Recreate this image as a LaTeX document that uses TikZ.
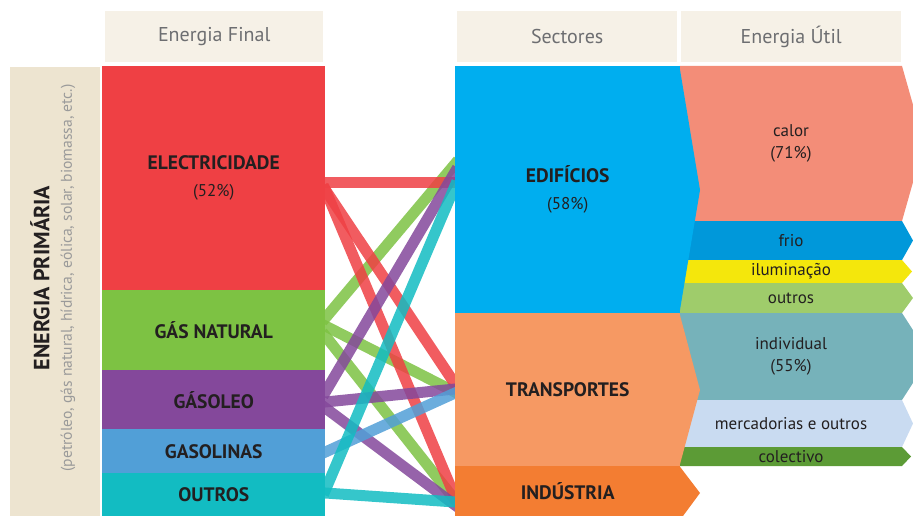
\documentclass[tikz,border=0pt]{standalone}
\usepackage{fontspec}
\setmainfont{PT Sans}

\definecolor{headfill}{HTML}{F6F1E7}
\definecolor{primfill}{HTML}{EDE4D0}
\definecolor{headtxt}{HTML}{6D6E71}
\definecolor{subtxt}{HTML}{9A9A9A}
\definecolor{labtxt}{HTML}{231F20}
\definecolor{elecred}{HTML}{EF4044}
\definecolor{gasgreen}{HTML}{7DC243}
\definecolor{oilpurple}{HTML}{84489B}
\definecolor{petrolblue}{HTML}{519FD7}
\definecolor{othteal}{HTML}{12BCC2}
\definecolor{edifblue}{HTML}{00AEEF}
\definecolor{transorange}{HTML}{F69963}
\definecolor{indorange}{HTML}{F37D32}
\definecolor{heatc}{HTML}{F38D78}
\definecolor{coldc}{HTML}{0098DA}
\definecolor{lightc}{HTML}{F4E70C}
\definecolor{miscc}{HTML}{9FCC6B}
\definecolor{indivc}{HTML}{76B2BA}
\definecolor{freightc}{HTML}{C9DBF1}
\definecolor{publicc}{HTML}{5C9B36}

\pgfdeclarelayer{flows}
\pgfsetlayers{flows,main}

\tikzset{
  head/.style={fill=headfill, text=headtxt, anchor=north west, inner sep=0pt,
    minimum height=51pt, font=\fontsize{20}{22}\selectfont},
  final/.style={anchor=north west, inner sep=0pt, minimum width=223pt, align=center,
    text=labtxt, font=\bfseries\fontsize{19.5}{21}\selectfont},
  sector/.style={final, minimum width=225pt},
  util/.style={inner sep=0pt, align=center, text=labtxt, font=\fontsize{17}{22}\selectfont},
  flow/.style={draw=#1, draw opacity=0.85, line width=11pt, shorten <=-5pt, shorten >=-5pt}
}

\begin{document}
\begin{tikzpicture}[x=1pt,y=-1pt]
  \useasboundingbox (0,0) rectangle (913,516);
  % column titles
  \node[head, minimum width=218pt] (hfinal) at (105,11) {Energia Final};
  \node[head, minimum width=220pt] (hsect) at (457,11) {Sectores};
  \node[head, minimum width=220pt] (hutil) at (681,11) {Energia Útil};
  % primary energy strip
  \node[fill=primfill, anchor=north west, inner sep=0pt, minimum width=90pt,
    minimum height=449pt] (prim) at (10,67) {};
  \node[rotate=90, text=labtxt, font=\bfseries\fontsize{22}{24}\selectfont]
    (primtitle) at (40,278) {ENERGIA PRIMÁRIA};
  \node[rotate=90, text=subtxt, font=\fontsize{15.6}{17}\selectfont]
    (primlist) at (68,278) {(petróleo, gás natural, hídrica, eólica, solar, biomassa, etc.)};
  % final energy
  \foreach \n/\t/\h/\c/\txt in {elec/66/224/elecred/{ELECTRICIDADE\\[6pt]{\mdseries\fontsize{17}{20}\selectfont(52\%)}},
      gas/290/80/gasgreen/{GÁS NATURAL}, diesel/370/59/oilpurple/GÁSOLEO,
      petrol/429/44/petrolblue/GASOLINAS, other/473/43/othteal/OUTROS}
    \node[final, fill=\c, minimum height=\h pt] (\n) at (102,\t) {\txt};
  % useful energy (under the sector tips)
  \foreach \n/\t/\b/\tx/\c/\txt in {heat/66/221/924/heatc/{calor\\(71\%)},
      cold/221/260/913/coldc/frio, light/260/283/912/lightc/iluminação,
      misc/283/313/913/miscc/outros, indiv/313/400/930/indivc/{individual\\(55\%)},
      freight/400/447/913/freightc/mercadorias e outros, public/447/466/911/publicc/colectivo} {
    \fill[\c] (680,\t) -- (902,\t) -- (\tx,{(\t+\b)/2}) -- (902,\b) -- (680,\b) -- cycle;
    \node[util] (\n) at (791,{(\t+\b)/2}) {\txt};
  }
  % sectors
  \node[sector, fill=edifblue, minimum height=247pt] (edif) at (455,66)
    {EDIFÍCIOS\\[6pt]{\mdseries\fontsize{17}{20}\selectfont(58\%)}};
  \node[sector, fill=transorange, minimum height=153pt] (transp) at (455,313) {TRANSPORTES};
  \node[sector, fill=indorange, minimum height=50pt] (ind) at (455,466) {INDÚSTRIA};
  \fill[edifblue] ([xshift=-1pt]edif.north east) -- (700,190) -- ([xshift=-1pt]edif.south east) -- cycle;
  \fill[transorange] ([xshift=-1pt]transp.north east) -- (700,390) -- ([xshift=-1pt]transp.south east) -- cycle;
  \fill[indorange] ([xshift=-1pt]ind.north east) -- (700,493) -- (683,516) -- ([xshift=-1pt]ind.south east) -- cycle;
  % flows from final energy to sectors
  \begin{pgfonlayer}{flows}
    \foreach \s/\ys/\d/\yd/\c in {gas/318/edif/164/gasgreen, gas/326/transp/392/gasgreen,
        gas/336/ind/500/gasgreen, elec/182/edif/182/elecred, elec/190/transp/384/elecred,
        elec/190/ind/497/elecred, diesel/392/edif/172/oilpurple, diesel/402/transp/389/oilpurple,
        diesel/408/ind/505/oilpurple, petrol/452/transp/393/petrolblue,
        other/490/edif/186/othteal, other/493/ind/502/othteal}
      \draw[flow=\c] (\s.east |- 0,\ys) -- (\d.west |- 0,\yd);
  \end{pgfonlayer}
\end{tikzpicture}
\end{document}
